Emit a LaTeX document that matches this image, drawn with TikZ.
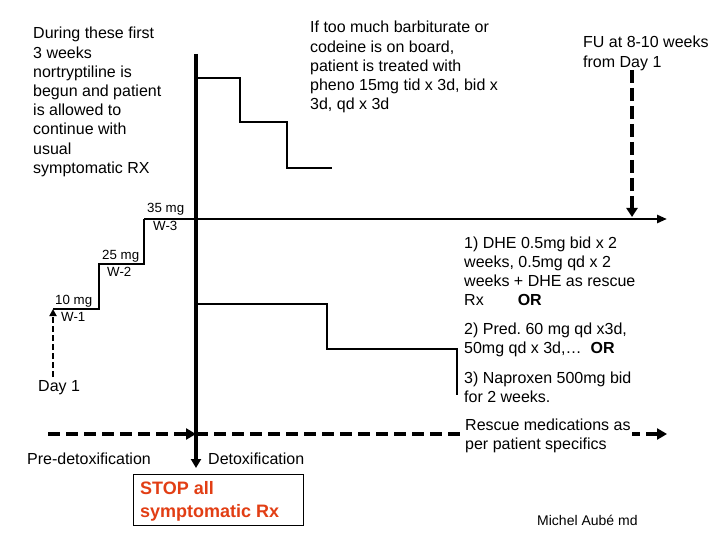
\documentclass[tikz,border=0pt]{standalone}
\usepackage{fontspec}
\setmainfont{Liberation Sans}
\usetikzlibrary{arrows.meta}
\definecolor{stopred}{RGB}{226,62,20}
\frenchspacing
\begin{document}
\begin{tikzpicture}[x=1pt,y=-1pt,
  txt/.style={anchor=base west, inner sep=0pt, align=left, font=\fontsize{16}{19.2}\selectfont},
  lbl/.style={anchor=base west, inner sep=0pt, font=\fontsize{13.3}{16}\selectfont},
  stepline/.style={line width=1.3pt, line join=miter},
  axis/.style={line width=4pt, -{Triangle[width=10pt,length=9pt]}},
  hline/.style={line width=2.5pt, -{Triangle[width=8pt,length=10pt]}},
  dashthick/.style={line width=4pt, dash pattern=on 12pt off 6pt, -{Triangle[width=11pt,length=10pt]}},
  fudash/.style={line width=4pt, dash pattern=on 13pt off 5pt, -{Triangle[width=11pt,length=9pt]}},
  daydash/.style={line width=2.2pt, dash pattern=on 6pt off 3pt, -{Triangle[width=7pt,length=7pt]}},
]
\useasboundingbox[fill=white] (0,0) rectangle (720,540);

% coordinates
\coordinate (vtop) at (196,54);
\coordinate (vbot) at (196,468);
\coordinate (hstart) at (144,219);
\coordinate (hend) at (667,219);
\coordinate (s0) at (53,309);
\coordinate (s1) at (99,309);
\coordinate (s2) at (99,264);
\coordinate (s3) at (144,264);
\coordinate (d0) at (196,78);
\coordinate (d1) at (240,78);
\coordinate (d2) at (240,122);
\coordinate (d3) at (287,122);
\coordinate (d4) at (287,168);
\coordinate (d5) at (332,168);
\coordinate (e0) at (196,304);
\coordinate (e1) at (327,304);
\coordinate (e2) at (327,349);
\coordinate (e3) at (457,349);
\coordinate (e4) at (457,395);
\coordinate (daybot) at (53,377);
\coordinate (fut) at (632,70);
\coordinate (fub) at (632,217);
\coordinate (bl) at (48,434);
\coordinate (bm) at (196,434);
\coordinate (br) at (667,434);

% step lines
\draw[stepline] (s0) -- (s1) -- (s2) -- (s3) -- (hstart);
\draw[stepline] (d0) -- (d1) -- (d2) -- (d3) -- (d4) -- (d5);
\draw[stepline] (e0) -- (e1) -- (e2) -- (e3) -- (e4);

% main axes
\draw[hline] (hstart) -- (hend);
\draw[axis] (vtop) -- (vbot);

% dashed arrows
\draw[daydash] (daybot) -- (s0);
\draw[fudash] (fut) -- (fub);
\draw[dashthick] (bl) -- (bm);
\draw[dashthick] (bm) -- (br);

% texts (anchor = baseline of last line)
\node[txt] (during) at (33,173.4) {During these first\\3 weeks\\nortryptiline is\\begun and patient\\is allowed to\\continue with\\usual\\symptomatic RX};
\node[txt] (iftoo) at (310,109.8) {If too much barbiturate or\\codeine is on board,\\patient is treated with\\pheno 15mg tid x 3d, bid x\\3d, qd x 3d};
\node[txt] (fu) at (583,67.2) {FU at 8-10 weeks\\from Day 1};
\node[txt] (opt1) at (464,305.6) {1) DHE 0.5mg bid x 2\\weeks, 0.5mg qd x 2\\weeks + DHE as rescue\\Rx\hspace{34pt}\textbf{OR}};
\node[txt] (opt2) at (464,353.2) {2) Pred. 60 mg qd x3d,\\50mg qd x 3d,…\hspace{9pt}\textbf{OR}};
\node[txt] (opt3) at (464,402.2) {3) Naproxen 500mg bid\\for 2 weeks.};
\node[txt, fill=white, inner sep=1pt] (rescue) at (464,449.2) {Rescue medications as\\per patient specifics};
\node[txt] (pre) at (27,464) {Pre-detoxification};
\node[txt] (detox) at (208,464) {Detoxification};
\node[txt] (day1) at (38,391) {Day 1};

\node[lbl] (m35) at (147,213) {35 mg};
\node[lbl] (w3) at (153,230) {W-3};
\node[lbl] (m25) at (102,259) {25 mg};
\node[lbl] (w2) at (107,276) {W-2};
\node[lbl] (m10) at (55,304) {10 mg};
\node[lbl] (w1) at (61,321) {W-1};

\draw[line width=1pt] (133,474) rectangle (303,525);
\node[anchor=base west, inner sep=0pt, align=left, text=stopred, font=\fontsize{18}{23}\selectfont\bfseries] (stop) at (140,517) {STOP all\\symptomatic Rx};

\node[anchor=base west, inner sep=0pt, font=\fontsize{14}{16}\selectfont] (author) at (537,525) {Michel Aubé md};
\end{tikzpicture}
\end{document}
